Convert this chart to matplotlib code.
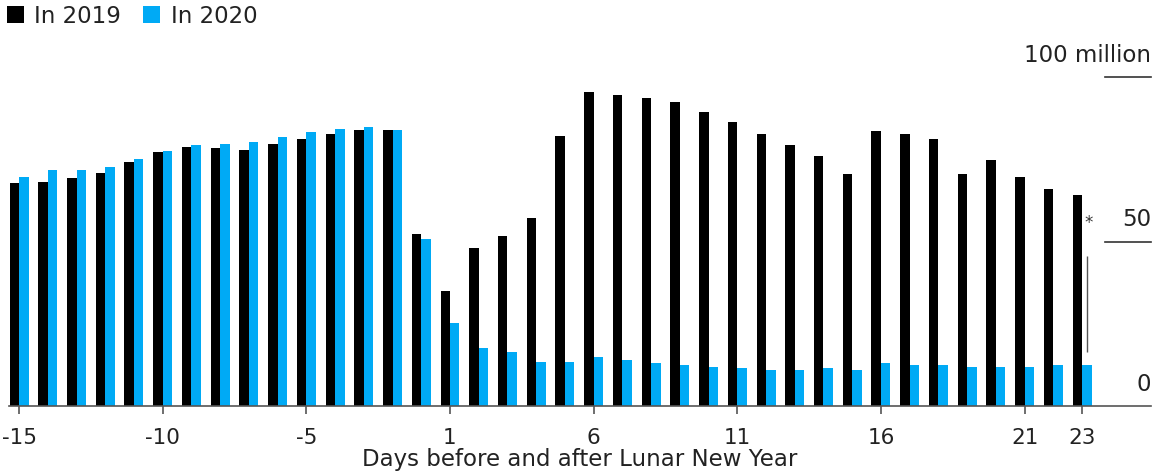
import matplotlib
matplotlib.use("Agg")
import matplotlib.pyplot as plt
import numpy as np

# days relative to Lunar New Year (there is no day 0)
days = list(range(-15, 0)) + list(range(1, 24))

# trips per day, millions
trips_2019 = [67.8, 68.2, 69.2, 70.7, 74.3, 77.2, 78.8, 78.3, 77.7, 79.7, 81.3, 82.8, 83.8, 83.8,
              52.2, 35.1, 48.1, 51.7, 57.2, 82.2, 95.3, 94.4, 93.7, 92.3, 89.3, 86.2, 82.8,
              79.2, 76.1, 70.6, 83.7, 82.6, 81.2, 70.6, 74.7, 69.7, 66.1, 64.0]
trips_2020 = [69.7, 71.6, 71.6, 72.7, 75.1, 77.5, 79.2, 79.7, 80.2, 81.8, 83.2, 84.3, 84.8, 83.8,
              50.7, 25.1, 17.5, 16.5, 13.5, 13.5, 15.0, 14.0, 13.0, 12.5, 11.9, 11.4, 10.9,
              10.9, 11.4, 10.9, 13.0, 12.5, 12.5, 11.9, 11.9, 11.9, 12.5, 12.5]

tick_days = [-15, -10, -5, 1, 6, 11, 16, 21, 23]
y_ticks = [0, 50, 100]
y_labels = ["0", "50", "100 million"]

black = "#000000"
blue = "#00aaf5"
text_color = "#222222"

plt.rcParams["font.family"] = "DejaVu Sans"

fig = plt.figure(figsize=(11.55, 4.76), dpi=100)
ax = fig.add_axes([9 / 1155, 70 / 476, 1142 / 1155, 329 / 476])

x = np.arange(len(days))
w = 0.33
ax.bar(x - w, trips_2019, width=w, align="edge", color=black, label="In 2019")
ax.bar(x, trips_2020, width=w, align="edge", color=blue, label="In 2020")

ax.set_xlim(-0.35, 39.4)
ax.set_ylim(0, 100)

for s in ["top", "right", "left"]:
    ax.spines[s].set_visible(False)
ax.spines["bottom"].set_color("#555555")
ax.spines["bottom"].set_linewidth(1.2)

ax.set_xticks([days.index(d) for d in tick_days])
ax.set_xticklabels([str(d) for d in tick_days])
ax.tick_params(axis="x", length=6, width=1.2, color="#555555", pad=10,
               labelsize=15.5, labelcolor=text_color)
ax.set_yticks([])

ax.set_xlabel("Days before and after Lunar New Year", fontsize=16.5, color=text_color, labelpad=0)

# short gridlines with labels sitting on top, right side
for v, lab in zip(y_ticks, y_labels):
    if v > 0:
        ax.axhline(v, xmin=0.96, xmax=1.0, color="#333333", lw=1.2, clip_on=False)
    ax.annotate(lab, xy=(1.0, v), xycoords=("axes fraction", "data"),
                xytext=(0, 11), textcoords="offset points",
                ha="right", va="baseline", fontsize=16.5, color=text_color)

# footnote marker next to the last day
last = len(days) - 1
ax.vlines(last + 0.17, trips_2020[-1] + 4, 45.6, color="#555555", lw=1)
ax.text(last + 0.22, 55.6, "*", fontsize=12, color="#333333", ha="center", va="center")

fig.legend(loc="upper left", bbox_to_anchor=(0.002, 1.0), ncol=2, frameon=False,
           fontsize=16.5, handlelength=0.75, handleheight=0.75, handletextpad=0.45,
           columnspacing=0.95, borderaxespad=0.1, borderpad=0.1, labelcolor=text_color)

fig.savefig("out.png", dpi=100)
